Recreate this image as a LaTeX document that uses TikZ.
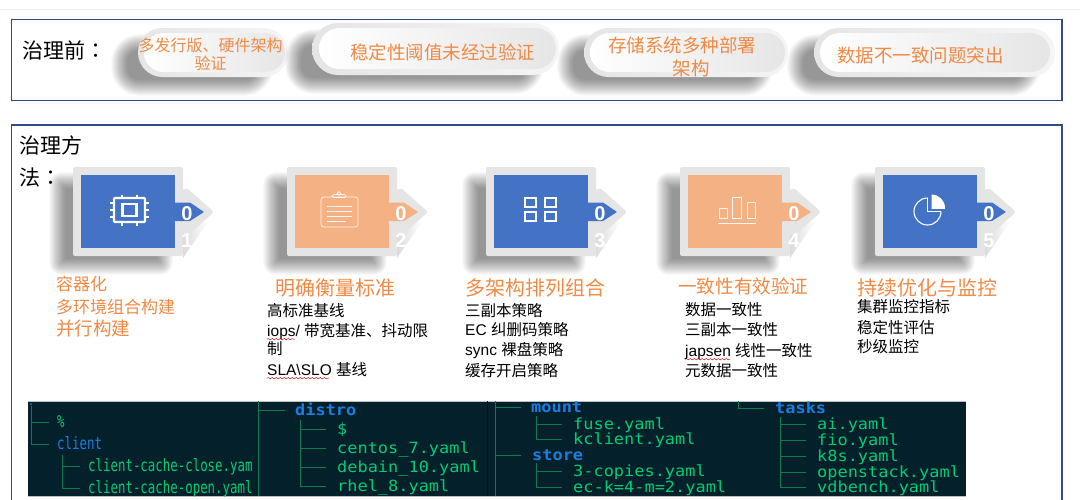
\documentclass[tikz,border=0pt]{standalone}
\usepackage{fontspec}
\usetikzlibrary{decorations.pathmorphing}
\setmainfont{Noto Sans CJK SC}
\newfontfamily\latf{Liberation Sans}
\newfontfamily\tcf{Noto Sans CJK TC}
\newfontfamily\monoN[FakeStretch=0.73]{DejaVu Sans Mono}
\newfontfamily\monoW[FakeStretch=1.1]{DejaVu Sans Mono}
\newcommand\sz[1]{\fontsize{#1}{#1}\selectfont}
\definecolor{framec}{HTML}{2F4A85}
\definecolor{orangeT}{HTML}{F18A45}
\definecolor{cblue}{HTML}{4472C4}
\definecolor{corange}{HTML}{F4B183}
\definecolor{bevel}{HTML}{E5E5E5}
\definecolor{termbg}{HTML}{04212B}
\definecolor{termgreen}{HTML}{00CC74}
\definecolor{termblue}{HTML}{1C7CE2}
\definecolor{treec}{HTML}{0E7A52}
\tikzset{
  framebox/.style={draw=framec,line width=1.4pt},
  txt/.style={inner sep=0pt,anchor=mid west,text=black},
  headT/.style={txt,font=\sz{21}},
  bodyT/.style={txt,font=\sz{15.5}},
  ttlT/.style={txt,text=orangeT,font=\sz{20}},
  pillT/.style={inner sep=0pt,anchor=center,text=orangeT,align=center},
  numT/.style={inner sep=0pt,anchor=center,text=white,align=center,font={\latf\bfseries\fontsize{20}{27}\selectfont}},
  face/.style={inner sep=0pt,minimum height=73pt,anchor=north west},
  wavy/.style={draw=red!75!black,line width=.45pt,decorate,decoration={snake,segment length=4pt,amplitude=.7pt}},
  iconW/.style={draw=white,line width=2.2pt},
  iconT/.style={draw=white!90!corange,line width=.7pt},
  treeln/.style={draw=treec,line width=.7pt},
  divider/.style={draw=treec,line width=.8pt},
  mN/.style={inner sep=0pt,anchor=mid west,text=termgreen,font={\monoN\sz{17}}},
  mW/.style={inner sep=0pt,anchor=mid west,text=termgreen,font={\monoW\sz{15.4}}},
  bN/.style={mN,text=termblue},
  bW/.style={inner sep=0pt,anchor=mid west,text=termblue,font={\monoW\bfseries\sz{15.4}}},
}
% soft shadow: x1 y1 x2 y2 radius
\newcommand\softshadow[5]{%
  \foreach \k in {0,...,19}{%
    \pgfmathsetmacro\dd{(\k-8)*0.85}%
    \pgfmathsetmacro\rr{max(0.5,min(#5+1-\dd,(#4-#2)/2-\dd-0.05))}%
    \fill[black,opacity=.024,rounded corners=\rr pt] (#1+\dd,#2+\dd) rectangle (#3-\dd,#4-\dd);
  }}
% pill: outer x1 y1 x2 y2, inner x1 y1 x2 y2
\newcommand\pillshape[8]{%
  \softshadow{#1-20}{#2+13}{#3-22}{#4+12}{20}%
  \pgfmathsetmacro\ro{(#4-#2)/2-.02}\pgfmathsetmacro\ri{(#8-#6)/2-.02}%
  \shade[left color=bevel,right color=white!96!black,rounded corners=\ro pt] (#1,#2) rectangle (#3,#4);
  \shade[left color=white,right color=white!90!black,rounded corners=\ri pt] (#5,#6) rectangle (#7,#8);
}
% card: name, inner left x, colour, numeral
\newcommand\card[4]{%
  \softshadow{#2-25}{179}{#2+85}{268}{4}%
  \shade[left color=black!14,right color=white] (#2+102,222) -- (#2+127,222) -- (#2+102,258) -- cycle;
  \fill[bevel,rounded corners=2pt] (#2-8,167) rectangle (#2+102,256);
  \fill[bevel,rounded corners=2.5pt] (#2+100,191) -- (#2+106,188) -- (#2+133,212) -- (#2+106,236) -- (#2+100,233) -- cycle;
  \node[face,fill=#3,minimum width=94pt] (#1) at (#2,175) {};
  \fill[bevel,rounded corners=1.5pt] (#2+94,195) rectangle (#2+110,203);
  \fill[bevel,rounded corners=1.5pt] (#2+94,221) rectangle (#2+110,232);
  \fill[#3,rounded corners=.5pt] (#2+93,202.5) -- (#2+109,202.5) -- (#2+123,212) -- (#2+109,221) -- (#2+93,221) -- cycle;
  \fill[#3] (#2+90,175) rectangle (#2+94,248);
  \node[numT] (#1num) at (#2+106,227.5) {0\\#4};
}
\newcommand\branch[3]{\draw[treeln] ([yshift=3pt]#1,0 |- #2.mid west) -- ([xshift=-#3pt,yshift=3pt]#2.mid west);}
\begin{document}
\begin{tikzpicture}[x=1pt,y=-1pt]
\useasboundingbox (0,0) rectangle (1080,499);
\clip (0,0) rectangle (1080,499);
\fill[white] (0,0) rectangle (1080,499);
\draw[black!6,line width=.8pt] (0,9.5) -- (1080,9.5);
% frames
\draw[framebox] (11.5,19.5) rectangle (1062,100.5);
\draw[framebox] (11.5,505) -- (11.5,125) -- (1062,125) -- (1062,505);
% top row
\node[headT] (before) at (22,56) {治理前{\tcf ：}};
\pillshape{138}{28}{288}{77}{144}{33}{285}{72}
\pillshape{312}{23}{559}{75}{319}{28}{556}{69}
\pillshape{584}{28}{788}{77}{590}{33}{785}{72}
\pillshape{814}{28}{1055}{77}{820}{33}{1050}{72}
\node[pillT,font={\fontsize{16}{18}\selectfont}] (p1) at (210.5,54) {多发行版、硬件架构\\验证\hspace{26pt}};
\node[pillT,font=\sz{18.5}] (p2) at (442.5,52) {稳定性阈值未经过验证};
\node[pillT,font={\fontsize{18.5}{23}\selectfont}] (p3) at (682,57) {存储系统多种部署\\\hspace{18pt}架构};
\node[pillT,font=\sz{18.5}] (p4) at (920.5,55) {数据不一致问题突出};
% method heading
\node[inner sep=0pt,anchor=west,align=left,font={\fontsize{21}{32}\selectfont}] (method) at (19,161) {治理方\\法{\tcf ：}};
% cards
\card{c1}{81}{cblue}{1}
\card{c2}{295}{corange}{2}
\card{c3}{494}{cblue}{3}
\card{c4}{688}{corange}{4}
\card{c5}{883}{cblue}{5}
% icon: chip
\draw[iconW,rounded corners=1pt] (114,198) rectangle (145,222);
\draw[iconW] (122.5,204) rectangle (136.5,216);
\foreach \y in {203,210,217}{\draw[white,line width=1.8pt] (110,\y) -- (114,\y) (145,\y) -- (149,\y);}
\foreach \x in {122,137}{\draw[white,line width=1.8pt] (\x,194.5) -- (\x,198) (\x,222) -- (\x,225.5);}
% icon: clipboard
\draw[iconT,rounded corners=3pt] (321,197) rectangle (358,227);
\draw[iconT,rounded corners=1.5pt] (332,197.5) rectangle (346,194.5);
\draw[iconT] (339,193.5) circle (1.8);
\foreach \y/\e in {206/352,211/352,216/352,221/346}{\draw[iconT] (327,\y) -- (\e,\y);}
% icon: grid
\foreach \x/\y in {525/198,545/198,525/212,545/212}{\draw[white,line width=1.5pt] (\x,\y) rectangle (\x+11,\y+9);}
% icon: bars
\draw[iconT] (719,208) rectangle (727,218);
\draw[iconT] (732.5,197) rectangle (741,218);
\draw[iconT] (747,202) rectangle (755,218);
\draw[iconT] (718,223) -- (755.5,223);
% icon: pie
\begin{scope}
\clip (910,195) -- (927.5,195) -- (927.5,211.5) -- (945,211.5) -- (945,230) -- (910,230) -- cycle;
\draw[white,line width=1.1pt] (927.5,211.5) circle (13.5);
\end{scope}
\draw[white,line width=1.1pt] (927.5,198) -- (927.5,211.5) -- (941,211.5);
\begin{scope}
\clip (931.5,194) rectangle (947,208);
\fill[white] (931.5,208) circle (13.5);
\end{scope}
% column texts
\node[txt,text=orangeT,font=\sz{17}] (a1) at (56,288) {容器化};
\node[txt,text=orangeT,font=\sz{17}] (a2) at (56,311) {多环境组合构建};
\node[txt,text=orangeT,font=\sz{18.5}] (a3) at (56,333) {并行构建};
\node[ttlT] (b0) at (275,293) {明确衡量标准};
\node[bodyT] (b1) at (267,314) {高标准基线};
\node[bodyT] (b2) at (267,334) {{\latf iops/ }带宽基准、抖动限};
\node[bodyT] (b3) at (267,352) {制};
\node[bodyT] (b4) at (267,373) {{\latf SLA\textbackslash SLO }基线};
\node[ttlT] (d0) at (465,293) {多架构排列组合};
\node[bodyT] (d1) at (465,314) {三副本策略};
\node[bodyT] (d2) at (465,333) {{\latf EC }纠删码策略};
\node[bodyT] (d3) at (465,353) {{\latf sync }裸盘策略};
\node[bodyT] (d4) at (465,374) {缓存开启策略};
\node[ttlT,font=\sz{18.6}] (e0) at (678,291) {一致性有效验证};
\node[bodyT] (e1) at (685,313) {数据一致性};
\node[bodyT] (e2) at (685,333) {三副本一致性};
\node[bodyT] (e3) at (685,354) {{\latf japsen }线性一致性};
\node[bodyT] (e4) at (685,374) {元数据一致性};
\node[ttlT] (f0) at (857,293) {持续优化与监控};
\node[bodyT] (f1) at (857,310) {集群监控指标};
\node[bodyT] (f2) at (857,331) {稳定性评估};
\node[bodyT] (f3) at (857,350) {秒级监控};
\draw[wavy] ([yshift=-2.5pt]b2.base west) -- ++(28,0);
\draw[wavy] ([yshift=-2.5pt]b4.base west) -- ++(62,0);
\draw[wavy] ([yshift=-2.5pt]e3.base west) -- ++(45,0);
% terminal
\fill[termbg] (28,401) rectangle (966,496);
\draw[black!25,line width=.5pt] (28,401) -- (966,401) (28,496) -- (966,496);
\fill[termblue] (31,404) circle (1pt);
\begin{scope}
\clip (28,401) rectangle (966,496);
\node[mN] (pct) at (57,425) {\%};
\node[bN] (client) at (57,447) {client};
\node[mN] (cc) at (88,469) {client-cache-close.yam};
\node[mN] (co) at (88,491) {client-cache-open.yaml};
\node[bW] (distro) at (295,413) {distro};
\node[mW] (dollar) at (337,432) {\$};
\node[mW] (centos) at (337,451) {centos\_7.yaml};
\node[mW] (debain) at (337,470) {debain\_10.yaml};
\node[mW] (rhel) at (337,489) {rhel\_8.yaml};
\node[bW] (mount) at (531,410) {mount};
\node[mW] (fuse) at (573,427) {fuse.yaml};
\node[mW] (kclient) at (573,442) {kclient.yaml};
\node[bW] (store) at (532,458) {store};
\node[mW] (copies) at (573,474) {3-copies.yaml};
\node[mW] (eck) at (573,490) {ec-k=4-m=2.yaml};
\node[bW] (tasks) at (775,411) {tasks};
\node[mW] (ai) at (817,427) {ai.yaml};
\node[mW] (fio) at (817,443) {fio.yaml};
\node[mW] (k8s) at (817,459) {k8s.yaml};
\node[mW] (openstack) at (817,475) {openstack.yaml};
\node[mW] (vdbench) at (817,490) {vdbench.yaml};
% tree lines
\draw[treeln] (31,406) -- ([yshift=3pt]31,0 |- client.mid west);
\branch{31}{pct}{8}
\branch{31}{client}{8}
\draw[treeln] (62,455) -- ([yshift=3pt]62,0 |- co.mid west);
\branch{62}{cc}{8}
\branch{62}{co}{8}
\draw[divider] (258,401) -- (258,496);
\branch{258}{distro}{10}
\draw[treeln] (300,420) -- ([yshift=3pt]300,0 |- rhel.mid west);
\branch{300}{dollar}{11}
\branch{300}{centos}{11}
\branch{300}{debain}{11}
\branch{300}{rhel}{11}
\draw[black!45!termbg,line width=.7pt] (487,401) -- (487,496);
\draw[divider] (495,401) -- (495,496);
\branch{495}{mount}{10}
\branch{495}{store}{11}
\draw[treeln] (536,416) -- ([yshift=3pt]536,0 |- kclient.mid west);
\branch{536}{fuse}{11}
\branch{536}{kclient}{11}
\draw[treeln] (536,463) -- ([yshift=3pt]536,0 |- eck.mid west);
\branch{536}{copies}{11}
\branch{536}{eck}{11}
\draw[treeln] (738,401) -- ([yshift=3pt]738,0 |- tasks.mid west);
\branch{738}{tasks}{11}
\draw[treeln] (780,417) -- ([yshift=3pt]780,0 |- vdbench.mid west);
\branch{780}{ai}{11}
\branch{780}{fio}{11}
\branch{780}{k8s}{11}
\branch{780}{openstack}{11}
\branch{780}{vdbench}{11}
\end{scope}
\end{tikzpicture}
\end{document}
